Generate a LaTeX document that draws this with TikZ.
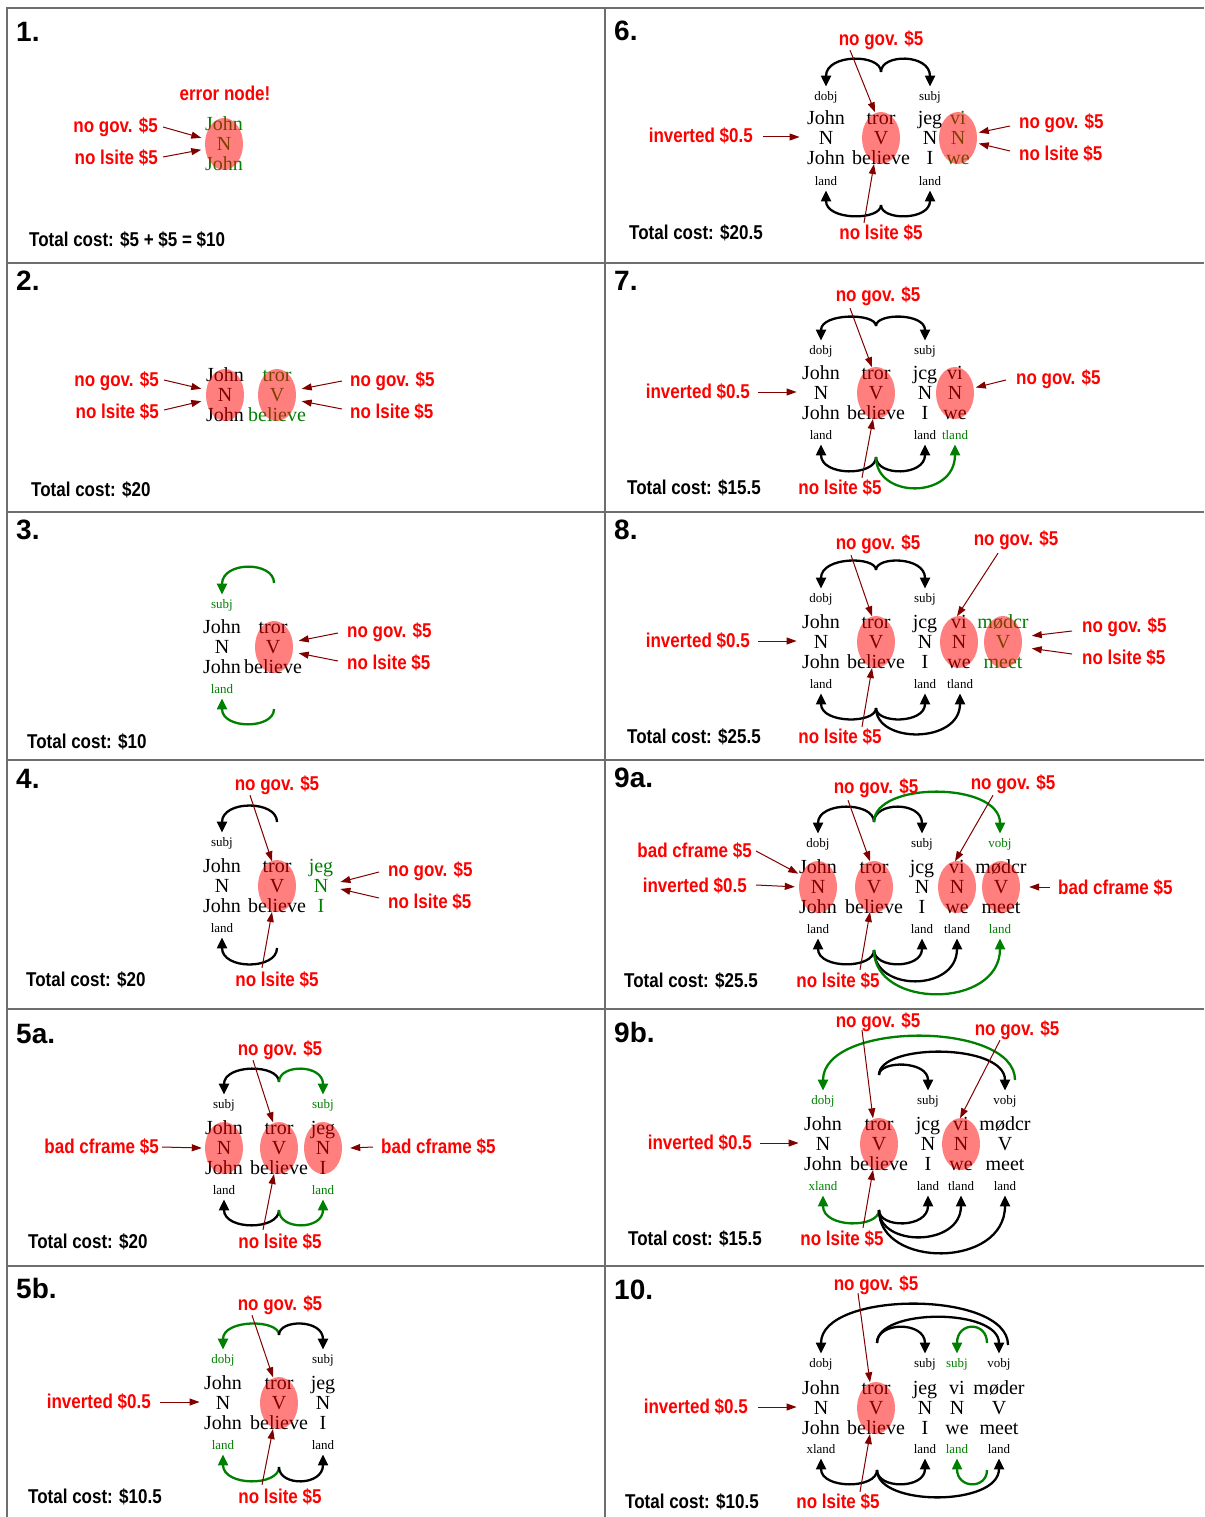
\documentclass[tikz,border=0pt]{standalone}
\usepackage{fontspec}
\setmainfont{Liberation Serif}
\newfontfamily\labf[FakeStretch=0.85]{Liberation Sans}
\newfontfamily\numf{Liberation Sans}
\usetikzlibrary{arrows.meta,shapes.geometric,calc}
\definecolor{dgreen}{RGB}{0,128,0}
\definecolor{ptrred}{RGB}{128,0,0}
\definecolor{gridgray}{RGB}{110,110,110}
\tikzset{
 word/.style={font=\fontsize{20}{24}\selectfont, inner sep=0pt, text height=13pt, text depth=0pt},
 slab/.style={font=\fontsize{13}{15}\selectfont, inner sep=0pt, text height=8.5pt, text depth=0pt},
 lab/.style={font=\labf\bfseries\fontsize{20}{24}\selectfont, text=red, inner sep=0pt, text height=14pt, text depth=0pt},
 tot/.style={lab, text=black, anchor=west},
 pnum/.style={font=\numf\bfseries\fontsize{28}{32}\selectfont, inner sep=0pt, anchor=base west},
 errell/.style={ellipse, fill=red, fill opacity=0.5, draw=none, minimum width=38pt, minimum height=52pt, inner sep=0pt},
 ptr/.style={draw=ptrred, line width=1pt, -{Triangle[length=10pt,width=7pt]}},
 arcb/.style={draw=black, line width=2.3pt, -{Triangle[length=11pt,width=10pt]}},
 arcg/.style={arcb, draw=dgreen},
 gridline/.style={draw=gridgray, line width=2pt},
}
\newcommand\tcol[7]{%
 \node[word,text=#7] (#11) at (#2,#3-20) {#4};
 \node[word,text=#7] (#12) at (#2,#3) {#5};
 \node[word,text=#7] (#13) at (#2,#3+20) {#6};}
\newcommand\slabel[5]{\node[slab,text=#5] (#1) at (#2,#3) {#4};}
\newcommand\tarc[4]{\draw[#1] (#2) .. controls (#2 |- 0,#4) and (#3 |- 0,#4) .. ($(#3.north)+(0,-5)$);}
\newcommand\barc[4]{\draw[#1] (#2) .. controls (#2 |- 0,#4) and (#3 |- 0,#4) .. ($(#3.south)+(0,5)$);}
\begin{document}
\begin{tikzpicture}[x=1pt,y=-1pt]
\fill[white] (0,0) rectangle (1204,1517);
\useasboundingbox (0,0) rectangle (1204,1517);
% grid
\draw[gridline] (7,1517) -- (7,8) -- (1204,8);
\draw[gridline] (605,8) -- (605,1517);
\foreach \yy in {263,512,760,1009,1266} {\draw[gridline] (7,\yy) -- (1204,\yy);}

% ================= Panel 1
\node[pnum] (n1) at (16,42) {1.};
\tcol{pA}{224}{144}{John}{N}{John}{dgreen}
\node[errell] (pX) at (224,144) {};
\node[lab] (perr) at (225,94) {error node!};
\node[lab,anchor=east] (pL1) at (158,126) {no gov. \$5};
\node[lab,anchor=east] (pL2) at (158,158) {no lsite \$5};
\draw[ptr,shorten >=4pt] ($(pL1.east)+(5,1)$) -- (pX.165);
\draw[ptr,shorten >=4pt] ($(pL2.east)+(5,-1)$) -- (pX.195);
\node[tot] (pT) at (29,239) {Total cost: \$5 + \$5 = \$10};

% ================= Panel 2
\node[pnum] (n2) at (16,290) {2.};
\tcol{bA}{225}{395}{John}{N}{John}{black}
\tcol{bB}{277}{395}{tror}{V}{believe}{dgreen}
\node[errell] (bX1) at (225,395) {};
\node[errell] (bX2) at (277,395) {};
\node[lab,anchor=east] (bL1) at (159,379) {no gov. \$5};
\node[lab,anchor=east] (bL2) at (159,411) {no lsite \$5};
\node[lab,anchor=west] (bR1) at (350,379) {no gov. \$5};
\node[lab,anchor=west] (bR2) at (350,411) {no lsite \$5};
\draw[ptr,shorten >=5pt] ($(bL1.east)+(5,1)$) -- (bX1.165);
\draw[ptr,shorten >=5pt] ($(bL2.east)+(5,-1)$) -- (bX1.195);
\draw[ptr,shorten >=6pt] ($(bR1.west)+(-8,2)$) -- (bX2.15);
\draw[ptr,shorten >=6pt] ($(bR2.west)+(-8,-2)$) -- (bX2.345);
\node[tot] (bT) at (31,489) {Total cost: \$20};

% ================= Panel 3
\node[pnum] (n3) at (16,539) {3.};
\tcol{cA}{222}{647}{John}{N}{John}{black}
\tcol{cB}{273}{647}{tror}{V}{believe}{black}
\slabel{cs}{222}{604}{subj}{dgreen}
\slabel{cl}{222}{689}{land}{dgreen}
\coordinate (cct) at (274,583);
\coordinate (ccb) at (274,709);
\tarc{arcg}{cct}{cs}{561}
\barc{arcg}{ccb}{cl}{729.5}
\node[errell] (cX) at (274,647) {};
\node[lab,anchor=west] (cR1) at (347,630) {no gov. \$5};
\node[lab,anchor=west] (cR2) at (347,662) {no lsite \$5};
\draw[ptr,shorten >=6pt] ($(cR1.west)+(-9,3)$) -- (cX.15);
\draw[ptr,shorten >=6pt] ($(cR2.west)+(-9,-1)$) -- (cX.345);
\node[tot] (cT) at (27,741) {Total cost: \$10};

% ================= Panel 4
\node[pnum] (n4) at (16,788) {4.};
\tcol{dA}{222}{886}{John}{N}{John}{black}
\tcol{dB}{277}{886}{tror}{V}{believe}{black}
\tcol{dC}{321}{886}{jeg}{N}{I}{dgreen}
\slabel{ds}{222}{842}{subj}{black}
\slabel{dl}{222}{928}{land}{black}
\coordinate (dct) at (277,822);
\coordinate (dcb) at (277,948);
\tarc{arcb}{dct}{ds}{800}
\barc{arcb}{dcb}{dl}{970}
\node[errell] (dX) at (277,886) {};
\node[lab] (dG) at (277,783) {no gov. \$5};
\node[lab] (dS) at (277,979) {no lsite \$5};
\draw[ptr] ($(dG.south)+(-27,5)$) -- ($(dB1.north)+(-5,2)$);
\draw[ptr] ($(dS.north)+(-15,-4)$) -- ($(dB3.center)+(-5,6)$);
\node[lab,anchor=west] (dR1) at (388,869) {no gov. \$5};
\node[lab,anchor=west] (dR2) at (388,901) {no lsite \$5};
\draw[ptr] ($(dR1.west)+(-9,3)$) -- ($(dC2.east)+(12,-4)$);
\draw[ptr] ($(dR2.west)+(-9,-3)$) -- ($(dC2.east)+(12,3)$);
\node[tot] (dT) at (26,979) {Total cost: \$20};

% ================= Panel 5a
\node[pnum] (n5a) at (16,1043) {5a.};
\tcol{eA}{224}{1148}{John}{N}{John}{black}
\tcol{eB}{279}{1148}{tror}{V}{believe}{black}
\tcol{eC}{323}{1148}{jeg}{N}{I}{black}
\slabel{es1}{224}{1104}{subj}{black}
\slabel{es2}{323}{1104}{subj}{dgreen}
\slabel{el1}{224}{1190}{land}{black}
\slabel{el2}{323}{1190}{land}{dgreen}
\coordinate (ect) at (279,1082);
\coordinate (ecb) at (279,1210);
\tarc{arcb}{ect}{es1}{1063.8}
\tarc{arcg}{ect}{es2}{1063.8}
\barc{arcb}{ecb}{el1}{1230.5}
\barc{arcg}{ecb}{el2}{1230.5}
\node[errell] (eX1) at (224,1148) {};
\node[errell] (eX2) at (279,1148) {};
\node[errell] (eX3) at (323,1148) {};
\node[lab,anchor=east] (eL) at (159,1146) {bad cframe \$5};
\node[lab,anchor=west] (eR) at (381,1146) {bad cframe \$5};
\draw[ptr] ($(eL.east)+(3,1)$) -- ($(eX1.180)+(-3,0)$);
\draw[ptr] ($(eR.west)+(-8,1)$) -- ($(eX3.0)+(8,0)$);
\node[lab] (eG) at (280,1048) {no gov. \$5};
\node[lab] (eS) at (280,1241) {no lsite \$5};
\draw[ptr] ($(eG.south)+(-27,5)$) -- ($(eB1.north)+(-6,1)$);
\draw[ptr] ($(eS.north)+(-17,-4)$) -- ($(eB3.center)+(-5,6)$);
\node[tot] (eT) at (28,1241) {Total cost: \$20};

% ================= Panel 5b
\node[pnum] (n5b) at (16,1298) {5b.};
\tcol{fA}{223}{1403}{John}{N}{John}{black}
\tcol{fB}{279}{1403}{tror}{V}{believe}{black}
\tcol{fC}{323}{1403}{jeg}{N}{I}{black}
\slabel{fs1}{223}{1359}{dobj}{dgreen}
\slabel{fs2}{323}{1359}{subj}{black}
\slabel{fl1}{223}{1445}{land}{dgreen}
\slabel{fl2}{323}{1445}{land}{black}
\coordinate (fct) at (279,1335);
\coordinate (fcb) at (279,1467);
\tarc{arcg}{fct}{fs1}{1319}
\tarc{arcb}{fct}{fs2}{1319}
\barc{arcg}{fcb}{fl1}{1486.5}
\barc{arcb}{fcb}{fl2}{1486.5}
\node[errell] (fX) at (279,1403) {};
\node[lab,anchor=east] (fI) at (151,1401) {inverted \$0.5};
\draw[ptr] ($(fI.east)+(9,1)$) -- ($(fA2.west)+(-16,-1)$);
\node[lab] (fG) at (280,1303) {no gov. \$5};
\node[lab] (fS) at (280,1496) {no lsite \$5};
\draw[ptr] ($(fG.south)+(-28,5)$) -- ($(fB1.north)+(-6,1)$);
\draw[ptr] ($(fS.north)+(-18,-4)$) -- ($(fB3.center)+(-6,6)$);
\node[tot] (fT) at (28,1496) {Total cost: \$10.5};

% ================= Panel 6
\node[pnum] (n6) at (614,41) {6.};
\tcol{rA}{826}{138}{John}{N}{John}{black}
\tcol{rB}{881}{138}{tror}{V}{believe}{black}
\tcol{rC}{930}{138}{jeg}{N}{I}{black}
\tcol{rD}{958}{138}{vi}{N}{we}{dgreen}
\slabel{rs1}{826}{96}{dobj}{black}
\slabel{rs2}{930}{96}{subj}{black}
\slabel{rl1}{826}{181}{land}{black}
\slabel{rl2}{930}{181}{land}{black}
\coordinate (rct) at (881,72);
\coordinate (rcb) at (881,205);
\tarc{arcb}{rct}{rs1}{53.5}
\tarc{arcb}{rct}{rs2}{53.5}
\barc{arcb}{rcb}{rl1}{220.8}
\barc{arcb}{rcb}{rl2}{220.8}
\node[errell] (rX1) at (881,138) {};
\node[errell] (rX2) at (958,138) {};
\node[lab,anchor=east] (rI) at (753,136) {inverted \$0.5};
\draw[ptr] ($(rI.east)+(10,1)$) -- ($(rA2.west)+(-19,-1)$);
\node[lab] (rG) at (881,39) {no gov. \$5};
\node[lab] (rS) at (881,232) {no lsite \$5};
\draw[ptr] ($(rG.south)+(-31,4)$) -- ($(rB1.north)+(-6,1)$);
\draw[ptr] ($(rS.north)+(-17,-2)$) -- ($(rB3.center)+(-7,6)$);
\node[lab,anchor=west] (rR1) at (1019,122) {no gov. \$5};
\node[lab,anchor=west] (rR2) at (1019,154) {no lsite \$5};
\draw[ptr,shorten >=2pt] ($(rR1.west)+(-9,4)$) -- (rX2.15);
\draw[ptr,shorten >=2pt] ($(rR2.west)+(-9,-3)$) -- (rX2.345);
\node[tot] (rT) at (629,232) {Total cost: \$20.5};

% ================= Panel 7
\node[pnum] (n7) at (614,290) {7.};
\tcol{sA}{821}{393}{John}{N}{John}{black}
\tcol{sB}{876}{393}{tror}{V}{believe}{black}
\tcol{sC}{925}{393}{jcg}{N}{I}{black}
\tcol{sD}{955}{393}{vi}{N}{we}{black}
\slabel{ss1}{821}{350}{dobj}{black}
\slabel{ss2}{925}{350}{subj}{black}
\slabel{sl1}{821}{435}{land}{black}
\slabel{sl2}{925}{435}{land}{black}
\slabel{sl3}{955}{435}{tland}{dgreen}
\coordinate (sct) at (876,326);
\coordinate (scb) at (876,457);
\tarc{arcb}{sct}{ss1}{312.8}
\tarc{arcb}{sct}{ss2}{312.8}
\barc{arcb}{scb}{sl1}{476.5}
\barc{arcb}{scb}{sl2}{476.5}
\barc{arcg}{scb}{sl3}{499.2}
\node[errell] (sX1) at (876,393) {};
\node[errell] (sX2) at (955,393) {};
\node[lab,anchor=east] (sI) at (750,391) {inverted \$0.5};
\draw[ptr] ($(sI.east)+(8,1)$) -- ($(sA2.west)+(-17,-1)$);
\node[lab] (sG) at (878,294) {no gov. \$5};
\node[lab] (sS) at (840,487) {no lsite \$5};
\draw[ptr] ($(sG.south)+(-28,7)$) -- ($(sB1.north)+(-4,1)$);
\draw[ptr] ($(sS.north)+(22,-2)$) -- ($(sB3.center)+(-3,6)$);
\node[lab,anchor=west] (sR1) at (1016,377) {no gov. \$5};
\draw[ptr,shorten >=2pt] ($(sR1.west)+(-10,3)$) -- (sX2.15);
\node[tot] (sT) at (627,487) {Total cost: \$15.5};

% ================= Panel 8
\node[pnum] (n8) at (614,539) {8.};
\tcol{uA}{821}{642}{John}{N}{John}{black}
\tcol{uB}{876}{642}{tror}{V}{believe}{black}
\tcol{uC}{925}{642}{jcg}{N}{I}{black}
\tcol{uD}{959}{642}{vi}{N}{we}{black}
\tcol{uE}{1003}{642}{mødcr}{V}{meet}{dgreen}
\slabel{us1}{821}{598}{dobj}{black}
\slabel{us2}{925}{598}{subj}{black}
\slabel{ul1}{821}{684}{land}{black}
\slabel{ul2}{925}{684}{land}{black}
\slabel{ul3}{960}{684}{tland}{black}
\coordinate (uct) at (876,570);
\coordinate (ucb) at (876,708);
\tarc{arcb}{uct}{us1}{556.2}
\tarc{arcb}{uct}{us2}{556.2}
\barc{arcb}{ucb}{ul1}{723.9}
\barc{arcb}{ucb}{ul2}{723.9}
\barc{arcb}{ucb}{ul3}{743.9}
\node[errell] (uX1) at (876,642) {};
\node[errell] (uX2) at (959,642) {};
\node[errell] (uX3) at (1003,642) {};
\node[lab,anchor=east] (uI) at (750,640) {inverted \$0.5};
\draw[ptr] ($(uI.east)+(8,1)$) -- ($(uA2.west)+(-17,-1)$);
\node[lab] (uG) at (878,542) {no gov. \$5};
\node[lab] (uG2) at (1016,538) {no gov. \$5};
\node[lab] (uS) at (840,736) {no lsite \$5};
\draw[ptr] ($(uG.south)+(-27,6)$) -- ($(uB1.north)+(-4,1)$);
\draw[ptr] ($(uG2.south)+(-18,8)$) -- ($(uD1.north)+(-2,1)$);
\draw[ptr] ($(uS.north)+(22,-2)$) -- ($(uB3.center)+(-4,6)$);
\node[lab,anchor=west] (uR1) at (1082,625) {no gov. \$5};
\node[lab,anchor=west] (uR2) at (1082,657) {no lsite \$5};
\draw[ptr,shorten >=10pt] ($(uR1.west)+(-10,6)$) -- (uX3.15);
\draw[ptr,shorten >=10pt] ($(uR2.west)+(-10,-3)$) -- (uX3.345);
\node[tot] (uT) at (627,736) {Total cost: \$25.5};

% ================= Panel 9a
\node[pnum] (n9a) at (614,787) {9a.};
\tcol{vA}{818}{887}{John}{N}{John}{black}
\tcol{vB}{874}{887}{tror}{V}{believe}{black}
\tcol{vC}{922}{887}{jcg}{N}{I}{black}
\tcol{vD}{957}{887}{vi}{N}{we}{black}
\tcol{vE}{1001}{887}{mødcr}{V}{meet}{black}
\slabel{vs1}{818}{843}{dobj}{black}
\slabel{vs2}{922}{843}{subj}{black}
\slabel{vs3}{1000}{843}{vobj}{dgreen}
\slabel{vl1}{818}{929}{land}{black}
\slabel{vl2}{922}{929}{land}{black}
\slabel{vl3}{957}{929}{tland}{black}
\slabel{vl4}{1000}{929}{land}{dgreen}
\coordinate (vct) at (874,822);
\coordinate (vcb) at (874,950);
\tarc{arcb}{vct}{vs1}{801.3}
\tarc{arcb}{vct}{vs2}{801.3}
\tarc{arcg}{vct}{vs3}{781.3}
\barc{arcb}{vcb}{vl1}{969.3}
\barc{arcb}{vcb}{vl2}{969.3}
\barc{arcb}{vcb}{vl3}{992}
\barc{arcg}{vcb}{vl4}{1009.3}
\node[errell] (vX1) at (818,887) {};
\node[errell] (vX2) at (874,887) {};
\node[errell] (vX3) at (957,887) {};
\node[errell] (vX4) at (1001,887) {};
\node[lab,anchor=east] (vBc) at (752,850) {bad cframe \$5};
\node[lab,anchor=east] (vI) at (747,885) {inverted \$0.5};
\draw[ptr,shorten >=3pt] ($(vBc.east)+(4,1)$) -- (vX1.145);
\draw[ptr,shorten >=4pt] ($(vI.east)+(9,0)$) -- (vX1.180);
\node[lab] (vG) at (876,786) {no gov. \$5};
\node[lab] (vG2) at (1013,782) {no gov. \$5};
\node[lab] (vS) at (838,980) {no lsite \$5};
\draw[ptr] ($(vG.south)+(-28,7)$) -- ($(vB1.north)+(-4,1)$);
\draw[ptr] ($(vG2.south)+(-20,6)$) -- ($(vD1.north)+(-2,1)$);
\draw[ptr] ($(vS.north)+(22,-3)$) -- ($(vB3.center)+(-4,5)$);
\node[lab,anchor=west] (vR) at (1058,887) {bad cframe \$5};
\draw[ptr] ($(vR.west)+(-8,0)$) -- ($(vX4.0)+(9,0)$);
\node[tot] (vT) at (624,980) {Total cost: \$25.5};

% ================= Panel 9b
\node[pnum] (n9b) at (614,1042) {9b.};
\tcol{wA}{823}{1144}{John}{N}{John}{black}
\tcol{wB}{879}{1144}{tror}{V}{believe}{black}
\tcol{wC}{928}{1144}{jcg}{N}{I}{black}
\tcol{wD}{961}{1144}{vi}{N}{we}{black}
\tcol{wE}{1005}{1144}{mødcr}{V}{meet}{black}
\slabel{ws1}{823}{1100}{dobj}{dgreen}
\slabel{ws2}{928}{1100}{subj}{black}
\slabel{ws3}{1005}{1100}{vobj}{black}
\slabel{wl1}{823}{1186}{xland}{dgreen}
\slabel{wl2}{928}{1186}{land}{black}
\slabel{wl3}{961}{1186}{tland}{black}
\slabel{wl4}{1005}{1186}{land}{black}
\coordinate (wgt) at (1015,1080);
\coordinate (wct) at (879,1075);
\coordinate (wcb) at (879,1210);
\tarc{arcg}{wgt}{ws1}{1020.8}
\tarc{arcb}{wct}{ws2}{1060.3}
\tarc{arcb}{wct}{ws3}{1043}
\barc{arcg}{wcb}{wl1}{1228.5}
\barc{arcb}{wcb}{wl2}{1228.5}
\barc{arcb}{wcb}{wl3}{1247.2}
\barc{arcb}{wcb}{wl4}{1268.5}
\node[errell] (wX1) at (879,1144) {};
\node[errell] (wX2) at (961,1144) {};
\node[lab,anchor=east] (wI) at (752,1142) {inverted \$0.5};
\draw[ptr] ($(wI.east)+(8,1)$) -- ($(wA2.west)+(-17,-1)$);
\node[lab] (wG) at (878,1020) {no gov. \$5};
\node[lab] (wG2) at (1017,1028) {no gov. \$5};
\node[lab] (wS) at (842,1238) {no lsite \$5};
\draw[ptr] ($(wG.south)+(-16,3)$) -- ($(wB1.north)+(-6,1)$);
\draw[ptr] ($(wG2.south)+(-17,5)$) -- ($(wD1.north)+(-1,1)$);
\draw[ptr] ($(wS.north)+(21,-3)$) -- ($(wB3.center)+(-6,6)$);
\node[tot] (wT) at (628,1238) {Total cost: \$15.5};

% ================= Panel 10
\node[pnum] (n10) at (614,1299) {10.};
\tcol{zA}{821}{1408}{John}{N}{John}{black}
\tcol{zB}{876}{1408}{tror}{V}{believe}{black}
\tcol{zC}{925}{1408}{jeg}{N}{I}{black}
\tcol{zD}{957}{1408}{vi}{N}{we}{black}
\tcol{zE}{999}{1408}{møder}{V}{meet}{black}
\slabel{zs1}{821}{1363}{dobj}{black}
\slabel{zs2}{925}{1363}{subj}{black}
\slabel{zs3}{957}{1363}{subj}{dgreen}
\slabel{zs4}{999}{1363}{vobj}{black}
\slabel{zl1}{821}{1449}{xland}{black}
\slabel{zl2}{925}{1449}{land}{black}
\slabel{zl3}{957}{1449}{land}{dgreen}
\slabel{zl4}{999}{1449}{land}{black}
\coordinate (zbig) at (1008,1345);
\coordinate (zct) at (877,1343);
\coordinate (zgt) at (987,1343);
\coordinate (zcb) at (877,1470);
\coordinate (zgb) at (987,1470);
\tarc{arcb}{zbig}{zs1}{1290.1}
\tarc{arcb}{zct}{zs2}{1321.2}
\tarc{arcb}{zct}{zs4}{1307.9}
\tarc{arcg}{zgt}{zs3}{1321.2}
\barc{arcb}{zcb}{zl1}{1489.3}
\barc{arcb}{zcb}{zl2}{1489.3}
\barc{arcb}{zcb}{zl4}{1506.7}
\barc{arcg}{zgb}{zl3}{1489.3}
\node[errell] (zX) at (876,1408) {};
\node[lab,anchor=east] (zI) at (748,1406) {inverted \$0.5};
\draw[ptr] ($(zI.east)+(10,1)$) -- ($(zA2.west)+(-17,-1)$);
\node[lab] (zG) at (876,1283) {no gov. \$5};
\node[lab] (zS) at (838,1501) {no lsite \$5};
\draw[ptr] ($(zG.south)+(-18,3)$) -- ($(zB1.north)+(-6,1)$);
\draw[ptr] ($(zS.north)+(22,-2)$) -- ($(zB3.center)+(-6,6)$);
\node[tot] (zT) at (625,1501) {Total cost: \$10.5};
\end{tikzpicture}
\end{document}
